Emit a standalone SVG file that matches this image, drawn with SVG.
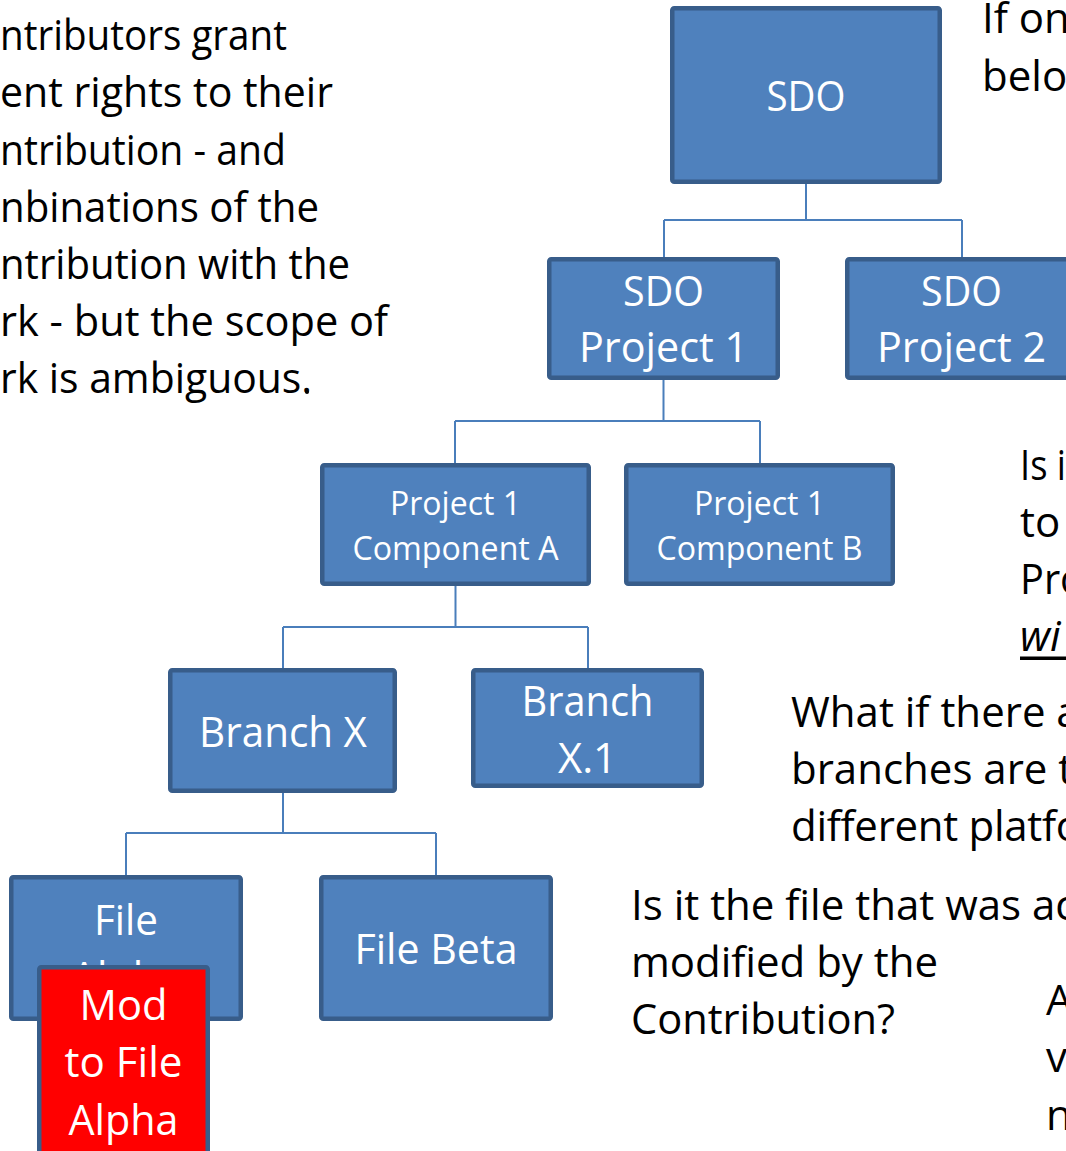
<svg xmlns="http://www.w3.org/2000/svg" width="1066" height="1151" viewBox="0 0 1066 1151">
<style>
.box{fill:#4f81bd;stroke:#385d8a;stroke-width:4.5}
.red{fill:#ff0000;stroke:#385d8a;stroke-width:4.5}
.lbl{font-family:"Open Sans","Noto Sans",sans-serif;fill:#ffffff;text-anchor:middle;font-size:42px}
.sm{font-size:32px}
.txt{font-family:"Open Sans","Noto Sans",sans-serif;fill:#000000;font-size:42px}
.conn{fill:none;stroke:#4a7ebb;stroke-width:2}
</style>
<rect width="1066" height="1151" fill="#ffffff"/>
<g id="connectors">
<path class="conn" d="M806 184V220M664 220H962M664 220V259M962 220V259"/>
<path class="conn" d="M663.5 380V421M455 421H760M455 421V465M760 421V465"/>
<path class="conn" d="M455.5 586V627M283 627H588M283 627V670M588 627V670"/>
<path class="conn" d="M283 793V833M126 833H436M126 833V877M436 833V877"/>
</g>
<g id="sdo"><rect class="box" x="672.25" y="8.25" width="267.5" height="173.5" rx="2"/><text class="lbl" x="806" y="111" textLength="79" lengthAdjust="spacingAndGlyphs">SDO</text></g>
<g id="sdo-project-1"><rect class="box" x="549.25" y="259.25" width="228.5" height="118.5" rx="2"/><text class="lbl" x="663.5" y="306" textLength="81" lengthAdjust="spacingAndGlyphs">SDO</text><text class="lbl" x="663.5" y="362" textLength="169" lengthAdjust="spacingAndGlyphs">Project 1</text></g>
<g id="sdo-project-2"><rect class="box" x="847.25" y="259.25" width="228.5" height="118.5" rx="2"/><text class="lbl" x="961.5" y="306" textLength="81" lengthAdjust="spacingAndGlyphs">SDO</text><text class="lbl" x="961.5" y="362" textLength="169" lengthAdjust="spacingAndGlyphs">Project 2</text></g>
<g id="component-a"><rect class="box" x="322.25" y="465.25" width="266.5" height="118.5" rx="2"/><text class="lbl sm" x="455.5" y="515" textLength="131" lengthAdjust="spacingAndGlyphs">Project 1</text><text class="lbl sm" x="455.5" y="560" textLength="206" lengthAdjust="spacingAndGlyphs">Component A</text></g>
<g id="component-b"><rect class="box" x="626.25" y="465.25" width="266.5" height="118.5" rx="2"/><text class="lbl sm" x="759.5" y="515" textLength="131" lengthAdjust="spacingAndGlyphs">Project 1</text><text class="lbl sm" x="759.5" y="560" textLength="206" lengthAdjust="spacingAndGlyphs">Component B</text></g>
<g id="branch-x"><rect class="box" x="170.25" y="670.25" width="224.5" height="120.5" rx="2"/><text class="lbl" x="283" y="747" textLength="168" lengthAdjust="spacingAndGlyphs">Branch X</text></g>
<g id="branch-x1"><rect class="box" x="473.25" y="670.25" width="228.5" height="115.5" rx="2"/><text class="lbl" x="587.5" y="716" textLength="132" lengthAdjust="spacingAndGlyphs">Branch</text><text class="lbl" x="587.5" y="773" textLength="59" lengthAdjust="spacingAndGlyphs">X.1</text></g>
<g id="file-alpha"><rect class="box" x="11.25" y="877.25" width="229.5" height="141.5" rx="2"/><text class="lbl" x="126" y="935" textLength="64" lengthAdjust="spacingAndGlyphs">File</text><text class="lbl" x="126" y="992" textLength="110" lengthAdjust="spacingAndGlyphs">Alpha</text></g>
<g id="file-beta"><rect class="box" x="321.25" y="877.25" width="229.5" height="141.5" rx="2"/><text class="lbl" x="436" y="964" textLength="163" lengthAdjust="spacingAndGlyphs">File Beta</text></g>
<g id="mod"><rect class="red" x="39.25" y="967.25" width="168.5" height="200" rx="2"/><text class="lbl" x="123.5" y="1020" textLength="88" lengthAdjust="spacingAndGlyphs">Mod</text><text class="lbl" x="123.5" y="1077" textLength="118" lengthAdjust="spacingAndGlyphs">to File</text><text class="lbl" x="123.5" y="1135" textLength="110" lengthAdjust="spacingAndGlyphs">Alpha</text></g>
<circle cx="307" cy="392" r="2" fill="#000000"/>
<g id="left-text">
<text class="txt" x="0" y="50" textLength="287" lengthAdjust="spacingAndGlyphs">ntributors grant</text>
<text class="txt" x="0" y="107" textLength="333" lengthAdjust="spacingAndGlyphs">ent rights to their</text>
<text class="txt" x="0" y="164.5" textLength="286" lengthAdjust="spacingAndGlyphs">ntribution - and</text>
<text class="txt" x="0" y="221.5" textLength="319" lengthAdjust="spacingAndGlyphs">nbinations of the</text>
<text class="txt" x="0" y="278.5" textLength="350" lengthAdjust="spacingAndGlyphs">ntribution with the</text>
<text class="txt" x="0" y="335.5" textLength="388" lengthAdjust="spacingAndGlyphs">rk - but the scope of</text>
<text class="txt" x="0" y="392.5" textLength="312" lengthAdjust="spacingAndGlyphs">rk is ambiguous.</text>
</g>
<g id="right-text">
<text class="txt" x="982" y="33">If on</text>
<text class="txt" x="982" y="90.5">belo</text>
<text class="txt" x="1020" y="480" textLength="46" lengthAdjust="spacingAndGlyphs">Is i</text>
<text class="txt" x="1020" y="537">to</text>
<text class="txt" x="1020" y="594" textLength="64" lengthAdjust="spacingAndGlyphs">Pro</text>
<text class="txt" x="1020" y="651" font-style="italic">wi</text>
<rect x="1020" y="656.5" width="46" height="3.5" fill="#000000"/>
<text class="txt" x="791" y="727">What if there a</text>
<text class="txt" x="791" y="784">branches are t</text>
<text class="txt" x="791" y="841" letter-spacing="-0.3">different platfo</text>
<text class="txt" x="631" y="920">Is it the file that was ac</text>
<text class="txt" x="631" y="977" textLength="307" lengthAdjust="spacingAndGlyphs">modified by the</text>
<text class="txt" x="631" y="1034" textLength="264" lengthAdjust="spacingAndGlyphs">Contribution?</text>
<text class="txt" x="1046" y="1015">A</text>
<text class="txt" x="1046" y="1072">v</text>
<text class="txt" x="1046" y="1130">n</text>
</g>
</svg>
